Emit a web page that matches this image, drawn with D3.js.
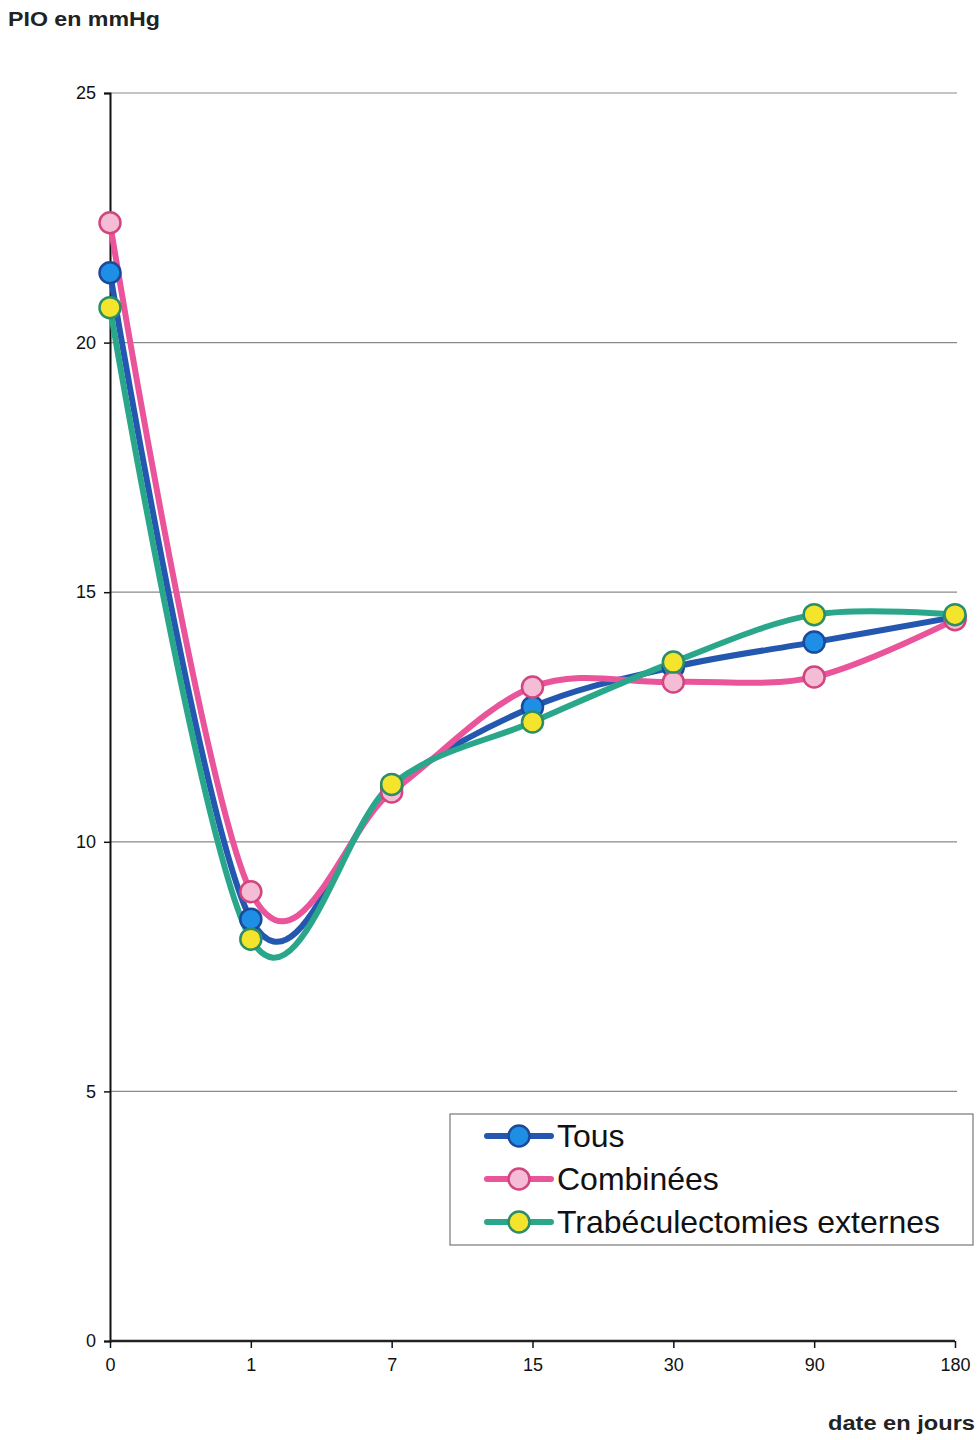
<!DOCTYPE html>
<html>
<head>
<meta charset="utf-8">
<script src="https://cdn.jsdelivr.net/npm/d3@7"></script>
<style>
  body { margin: 0; background: #fff; }
  text { font-family: "Liberation Sans", Arial, sans-serif; }
</style>
</head>
<body>
<div id="chart"></div>
<script>
const days = ["0", "1", "7", "15", "30", "90", "180"];
const tous = [21.4, 8.45, 11.1, 12.7, 13.5, 14.0, 14.5];
const combinees = [22.4, 9.0, 11.0, 13.1, 13.2, 13.3, 14.45];
const trabeculectomies = [20.7, 8.05, 11.15, 12.4, 13.6, 14.55, 14.55];
const yTicks = [0, 5, 10, 15, 20, 25];

const series = [
    { name: "Tous", values: tous, line: "#2458b0", fill: "#1f8fe6", stroke: "#1b4a9c" },
    { name: "Combinées", values: combinees, line: "#e9549a", fill: "#f5bcd6", stroke: "#d2457f" },
    { name: "Trabéculectomies externes", values: trabeculectomies, line: "#2aa78a", fill: "#f4e52c", stroke: "#2b8e66" }
];

const width = 978, height = 1440;
const svg = d3.select("#chart").append("svg")
    .attr("width", width)
    .attr("height", height);

const x = d3.scalePoint().domain(days).range([110, 955]);
const y = d3.scaleLinear().domain([0, 25]).range([1341, 93]);

// grid
svg.append("g").selectAll("line")
    .data(yTicks.filter(d => d > 0))
    .enter().append("line")
    .attr("x1", 110).attr("x2", 957)
    .attr("y1", d => y(d)).attr("y2", d => y(d))
    .style("stroke", "#8a8a8a")
    .style("stroke-width", 1.2);

// y axis
const yAxis = svg.append("g")
    .attr("transform", "translate(110,0)")
    .call(d3.axisLeft(y).tickValues(yTicks).tickSize(6).tickPadding(8));
yAxis.select(".domain").style("stroke", "#111").style("stroke-width", 2);
yAxis.selectAll(".tick line").style("stroke", "#111").style("stroke-width", 1.5);
yAxis.selectAll("text").style("font-size", "18px").style("fill", "#111");

// x axis
const xAxis = svg.append("g")
    .attr("transform", `translate(0,${y(0)})`)
    .call(d3.axisBottom(x).tickSize(7).tickPadding(10));
xAxis.select(".domain").attr("d", `M110,0H${x("180")}`).style("stroke", "#222").style("stroke-width", 2.5);
xAxis.selectAll(".tick line").style("stroke", "#111").style("stroke-width", 1.5);
xAxis.selectAll("text").style("font-size", "18px").style("fill", "#111");

// titles
svg.append("text").attr("x", 8).attr("y", 26)
    .attr("textLength", 152).attr("lengthAdjust", "spacingAndGlyphs")
    .style("font-size", "20px").style("font-weight", "bold").style("fill", "#222")
    .text("PIO en mmHg");
svg.append("text").attr("x", 828).attr("y", 1430)
    .attr("textLength", 147).attr("lengthAdjust", "spacingAndGlyphs")
    .style("font-size", "20px").style("font-weight", "bold").style("fill", "#222")
    .text("date en jours");

const line = d3.line()
    .x((d, i) => x(days[i]))
    .y(d => y(d))
    .curve(d3.curveCatmullRom.alpha(0));

series.forEach(s => {
    svg.append("path")
        .attr("d", line(s.values))
        .style("fill", "none")
        .style("stroke", s.line)
        .style("stroke-width", 6)
        .style("stroke-linejoin", "round");
});

series.forEach(s => {
    svg.append("g").selectAll("circle")
        .data(s.values)
        .enter().append("circle")
        .attr("cx", (d, i) => x(days[i]))
        .attr("cy", d => y(d))
        .attr("r", 10.5)
        .style("fill", s.fill)
        .style("stroke", s.stroke)
        .style("stroke-width", 2.5);
});

// legend
const legend = svg.append("g").attr("transform", "translate(450,1114)");
legend.append("rect")
    .attr("width", 523).attr("height", 131)
    .style("fill", "#fff")
    .style("stroke", "#777")
    .style("stroke-width", 1.2);

const legendItem = legend.selectAll(".item")
    .data(series)
    .enter().append("g")
    .attr("class", "item")
    .attr("transform", (d, i) => `translate(0,${22 + i * 43})`);

legendItem.append("line")
    .attr("x1", 37).attr("x2", 101)
    .style("stroke", d => d.line)
    .style("stroke-width", 6)
    .style("stroke-linecap", "round");
legendItem.append("circle")
    .attr("cx", 69).attr("r", 10.5)
    .style("fill", d => d.fill)
    .style("stroke", d => d.stroke)
    .style("stroke-width", 2.5);
legendItem.append("text")
    .attr("x", 107).attr("dy", "0.35em")
    .style("font-size", "32px")
    .style("fill", "#111")
    .text(d => d.name);
</script>
</body>
</html>
